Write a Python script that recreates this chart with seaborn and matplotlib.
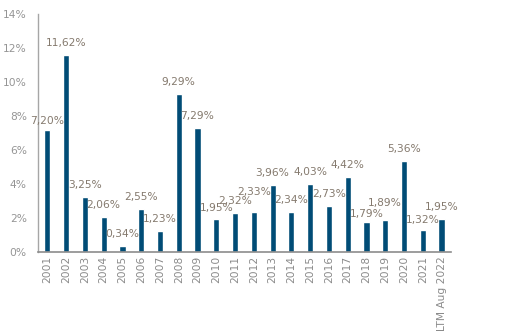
import matplotlib
matplotlib.use("Agg")
import matplotlib.pyplot as plt
import seaborn as sns
import pandas as pd

years = ["2001", "2002", "2003", "2004", "2005", "2006", "2007", "2008", "2009", "2010",
         "2011", "2012", "2013", "2014", "2015", "2016", "2017", "2018", "2019", "2020",
         "2021", "LTM Aug 2022"]
values = [7.20, 11.62, 3.25, 2.06, 0.34, 2.55, 1.23, 9.29, 7.29, 1.95,
          2.32, 2.33, 3.96, 2.34, 4.03, 2.73, 4.42, 1.79, 1.89, 5.36,
          1.32, 1.95]
yticks = [0, 2, 4, 6, 8, 10, 12, 14]

# label placement tweaks (points above bar top), style only
label_offsets = {0: 6.5, 9: 7.5, 11: 15, 17: 5.5, 18: 12.5, 20: 7}

sns.set_theme(style="white")
plt.rcParams['font.family'] = ['DejaVu Sans']

df = pd.DataFrame({"year": years, "value": values})

fig = plt.figure(figsize=(5.13, 3.36), dpi=100)
ax = fig.add_axes([0.074, 0.25, 0.805, 0.708])
sns.barplot(data=df, x="year", y="value", color="#014c76", saturation=1,
            width=0.33, ax=ax)

label_col = "#857a6e"
for i, v in enumerate(values):
    off = label_offsets.get(i, 8.6)
    ax.annotate(f"{v:.2f}%".replace(".", ","), xy=(i, v), xytext=(0, off),
                textcoords="offset points", ha="center", va="center",
                fontsize=7.7, color=label_col)

ax.set_xlim(-0.5, len(years) - 0.5)
ax.set_ylim(0, 14)
ax.set_yticks(yticks)
ax.set_yticklabels([f"{t}%" for t in yticks], fontsize=7.7, color="#959595")
ax.tick_params(axis="x", labelrotation=90, labelsize=7.7, length=0, pad=3)
ax.tick_params(axis="y", length=0, pad=8)
for lab in ax.get_xticklabels():
    lab.set_color("#8a8a8a")
ax.set_xlabel("")
ax.set_ylabel("")
for s in ["top", "right"]:
    ax.spines[s].set_visible(False)
ax.spines["left"].set_color("#a6a6a6")
ax.spines["bottom"].set_color("#8c8c8c")
ax.spines["left"].set_linewidth(1.0)
ax.spines["bottom"].set_linewidth(1.2)

fig.savefig("out.png", dpi=100)
